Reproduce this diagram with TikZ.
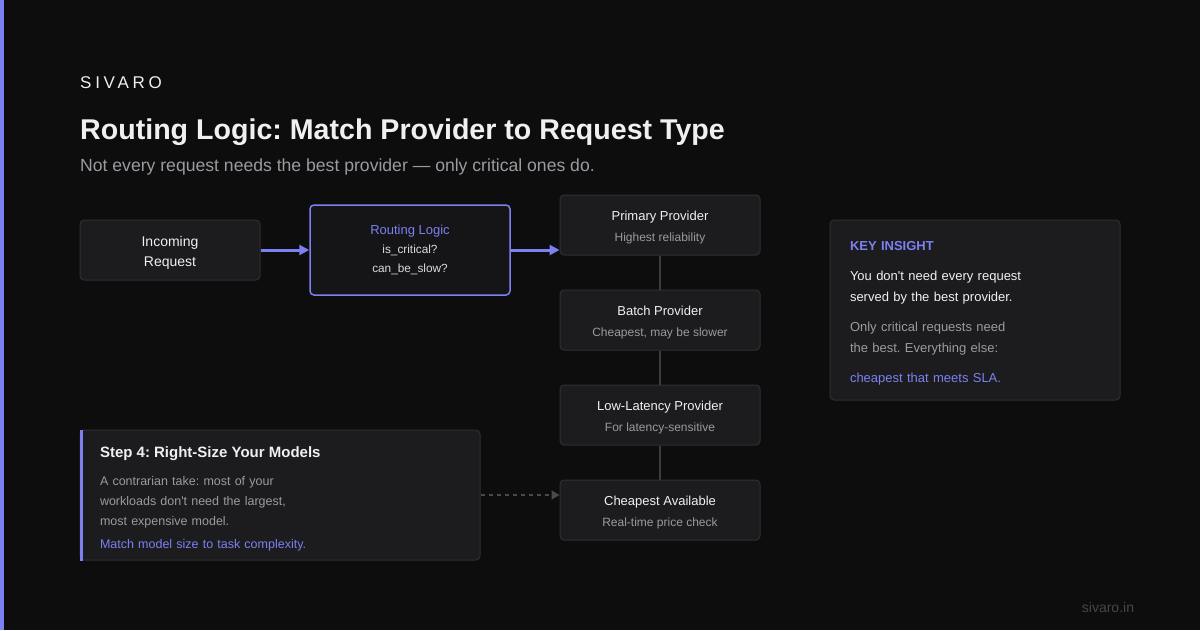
\documentclass[tikz,border=0pt]{standalone}
\usepackage{fontspec}
\setmainfont{Liberation Sans}
\newfontfamily\spacedfont[LetterSpace=22]{Liberation Sans}
\usetikzlibrary{shapes,arrows.meta}
\definecolor{bgcol}{HTML}{0D0D0E}
\definecolor{boxfill}{HTML}{1C1C1F}
\definecolor{boxline}{HTML}{2F2F33}
\definecolor{routefill}{HTML}{151518}
\definecolor{accent}{HTML}{7C80F0}
\definecolor{textwhite}{HTML}{F0F0F2}
\definecolor{muted}{HTML}{9A9AA0}
\definecolor{linkgray}{HTML}{3C3C40}
\definecolor{dashgray}{HTML}{4A4A4E}
\definecolor{footgray}{HTML}{46464A}
\frenchspacing
\newcommand{\provsub}[1]{{\fontsize{12}{21}\selectfont\color{muted}#1}}
\tikzstyle{block} = [rectangle, draw=boxline, fill=boxfill, line width=1pt,
    rounded corners=4pt, text=textwhite, align=center, inner sep=0pt]
\tikzstyle{provider} = [block, minimum width=200pt, minimum height=60pt,
    font=\fontsize{13}{21}\selectfont]
\tikzstyle{heading} = [anchor=base west, inner sep=0pt]
\tikzstyle{line} = [draw, -{Triangle[length=10pt, width=10pt]}]
\tikzstyle{flow} = [line, draw=accent, fill=accent, line width=3pt]
\tikzstyle{link} = [draw=linkgray, line width=1.5pt]
\tikzstyle{hint} = [draw=dashgray, line width=1.5pt, dash pattern=on 4pt off 4pt,
    -{Triangle[length=8pt, width=9pt, fill=dashgray]}]

\begin{document}
\begin{tikzpicture}[x=1pt, y=-1pt, node distance=95pt]
    % Background
    \fill[bgcol] (0,0) rectangle (1200,630);
    \useasboundingbox (0,0) rectangle (1200,630);
    \fill[accent] (0,0) rectangle (4,630);
    % Headings
    \node [heading, text=textwhite, font=\spacedfont\fontsize{17}{20}\selectfont] (brand) at (80,88) {SIVARO};
    \node [heading, text=textwhite, font=\bfseries\fontsize{28.6}{32}\selectfont] (title) at (80,139) {Routing Logic: Match Provider to Request Type};
    \node [heading, text=muted, font=\fontsize{17.6}{20}\selectfont] (subtitle) at (80,171) {Not every request needs the best provider — only critical ones do.};
    % Place nodes
    \node [block, minimum width=180pt, minimum height=60pt, font=\fontsize{14}{20}\selectfont] (incoming) at (170,250) {\rule{0pt}{16pt}Incoming\\Request};
    \node [block, draw=accent, fill=routefill, line width=1.5pt, minimum width=200pt, minimum height=90pt,
        font=\fontsize{11.8}{19}\selectfont, text=textwhite!75!muted] (routing) at (410,250)
        {{\fontsize{13}{19}\selectfont\color{accent}Routing Logic}\\is\_critical?\\can\_be\_slow?};
    \node [provider] (primary) at (660,225) {\rule{0pt}{14pt}Primary Provider\\\provsub{Highest reliability}};
    \node [provider, below of=primary] (batch) {\rule{0pt}{14pt}Batch Provider\\\provsub{Cheapest, may be slower}};
    \node [provider, below of=batch] (lowlat) {\rule{0pt}{14pt}Low-Latency Provider\\\provsub{For latency-sensitive}};
    \node [provider, below of=lowlat] (cheapest) {\rule{0pt}{14pt}Cheapest Available\\\provsub{Real-time price check}};
    \node [block, minimum width=290pt, minimum height=180pt, text width=250pt, align=left,
        font=\fontsize{13}{21}\selectfont] (insight) at (975,310)
        {\rule{0pt}{15pt}{\bfseries\color{accent}KEY INSIGHT}\\[9pt]
         You don\textquotesingle t need every request\\served by the best provider.\\[9pt]
         {\color{muted}Only critical requests need\\the best. Everything else:}\\[9pt]
         {\color{accent}cheapest that meets SLA.}};
    \node [block, minimum width=400pt, minimum height=130pt, text width=360pt, align=left,
        font=\fontsize{12.5}{20}\selectfont, text=muted] (step) at (280,495)
        {\rule{0pt}{19pt}{\bfseries\fontsize{15}{20}\selectfont\color{textwhite}Step 4: Right-Size Your Models}\\[8pt]
         A contrarian take: most of your\\workloads don\textquotesingle t need the largest,\\most expensive model.\\[3pt]
         {\color{accent}Match model size to task complexity.}};
    \fill [accent] (step.north west) rectangle ([xshift=3pt]step.south west);
    \node [anchor=base, inner sep=0pt, text=footgray, font=\fontsize{14}{16}\selectfont] (site) at (1108,612) {sivaro.in};
    % Draw edges
    \path [flow] (incoming) -- (routing);
    \path [flow] (routing.east) -- (routing.east -| primary.west);
    \path [link] (primary) -- (batch);
    \path [link] (batch) -- (lowlat);
    \path [link] (lowlat) -- (cheapest);
    \path [hint] (step.east) -- (step.east -| cheapest.west);
\end{tikzpicture}
\end{document}
